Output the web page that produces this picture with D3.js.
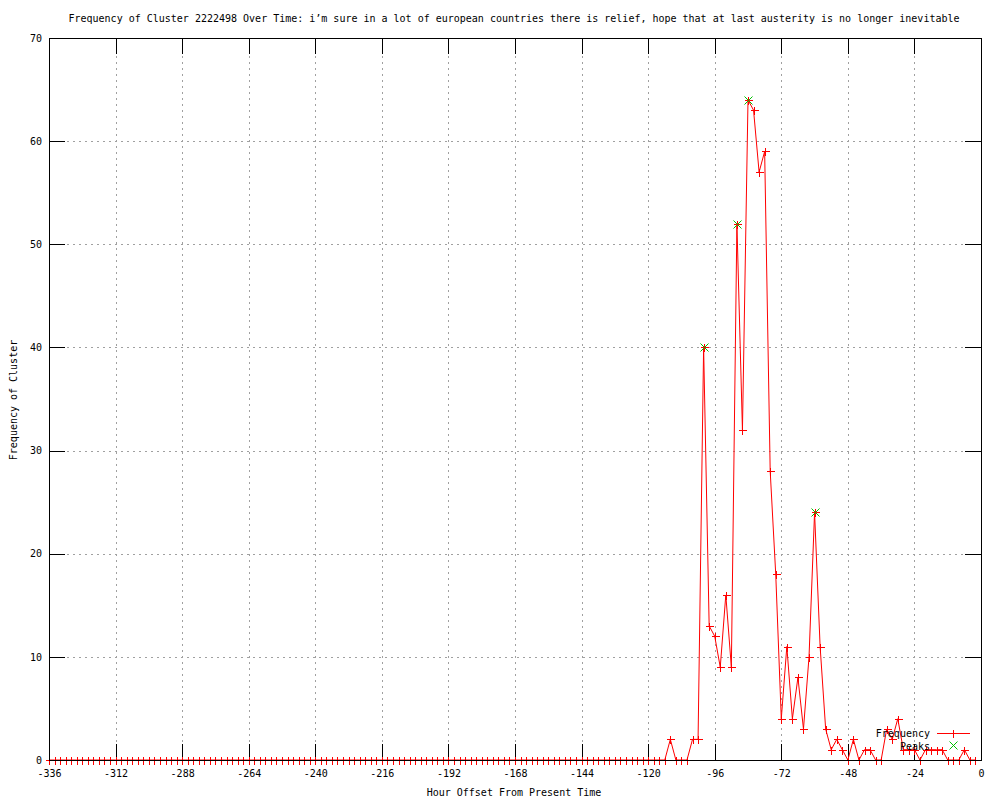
<!DOCTYPE html>
<html><head><meta charset="utf-8">
<script src="https://cdn.jsdelivr.net/npm/d3@7"></script>
<style>
body{margin:0;background:#fff}
text{font-family:"DejaVu Sans Mono",monospace;font-size:10px;fill:#000}
</style>
</head><body>
<svg id="c" width="1000" height="800"></svg>
<script>
const title = "Frequency of Cluster 2222498 Over Time: i’m sure in a lot of european countries there is relief, hope that at last austerity is no longer inevitable";
const xLabel = "Hour Offset From Present Time";
const yLabel = "Frequency of Cluster";
const seriesName = "Frequency";
const peaksName = "Peaks";

// hours -336 .. -2, every 2 hours
const hours = d3.range(-336, 0, 2);
const frequency = [
  0,0,0,0,0,0,0,0,0,0,0,0,0,0,   // -336 .. -310
  0,0,0,0,0,0,0,0,0,0,0,0,0,0,   // -308 .. -282
  0,0,0,0,0,0,0,0,0,0,0,0,0,0,   // -280 .. -254
  0,0,0,0,0,0,0,0,0,0,0,0,0,0,   // -252 .. -226
  0,0,0,0,0,0,0,0,0,0,0,0,0,0,   // -224 .. -198
  0,0,0,0,0,0,0,0,0,0,0,0,0,0,   // -196 .. -170
  0,0,0,0,0,0,0,0,0,0,0,0,0,0,   // -168 .. -142
  0,0,0,0,0,0,0,0,0,0,0,0,0,0,   // -140 .. -114
  2,0,0,0,2,2,40,13,12,9,16,9,52,32,   // -112 .. -86
  64,63,57,59,28,18,4,11,4,8,3,10,24,11, // -84 .. -58
  3,1,2,1,0,2,0,1,1,0,0,3,2,4,   // -56 .. -30
  1,1,1,0,1,1,1,1,0,0,0,1,0,0    // -28 .. -2
];
const peakHours = [-100, -88, -84, -60];
const peakValues = [40, 52, 64, 24];
const xTicks = [-336,-312,-288,-264,-240,-216,-192,-168,-144,-120,-96,-72,-48,-24,0];
const yTicks = [0,10,20,30,40,50,60,70];

const L = 49, R = 981, T = 38, B = 760;
const svg = d3.select("#c");
const x = d3.scaleLinear().domain([-336, 0]).range([L, R]);
const y = d3.scaleLinear().domain([0, 70]).range([B, T]);

// grid
const grid = svg.append("g").attr("stroke", "#a0a0a0").attr("stroke-dasharray", "2,4").attr("shape-rendering", "crispEdges");
grid.selectAll(".gx").data(xTicks.slice(1, -1)).join("line")
  .attr("x1", d => Math.round(x(d)) + 0.5).attr("x2", d => Math.round(x(d)) + 0.5)
  .attr("y1", T).attr("y2", B);
grid.selectAll(".gy").data(yTicks.slice(1, -1)).join("line")
  .attr("y1", d => Math.round(y(d)) + 0.5).attr("y2", d => Math.round(y(d)) + 0.5)
  .attr("x1", L).attr("x2", R);

// axes
const tick = 16;
const ax = svg.append("g").attr("transform", `translate(0,${B})`)
  .call(d3.axisBottom(x).tickValues(xTicks).tickSize(-tick).tickPadding(10).tickFormat(d => String(d)));
const at = svg.append("g").attr("transform", `translate(0,${T})`)
  .call(d3.axisTop(x).tickValues(xTicks).tickSize(-tick).tickFormat(""));
const al = svg.append("g").attr("transform", `translate(${L},0)`)
  .call(d3.axisLeft(y).tickValues(yTicks).tickSize(-tick).tickPadding(7).tickFormat(d => String(d)));
const ar = svg.append("g").attr("transform", `translate(${R},0)`)
  .call(d3.axisRight(y).tickValues(yTicks).tickSize(-tick).tickFormat(""));
[ax, at, al, ar].forEach(g => {
  g.select(".domain").remove();
  g.attr("font-family", null).attr("font-size", null);
  g.selectAll("line").attr("stroke", "#000").attr("shape-rendering", "crispEdges");
});

// data line
const data = hours.map((h, i) => ({h, v: frequency[i]}));
svg.append("path").datum(data)
  .attr("fill", "none").attr("stroke", "#ff0000").attr("stroke-width", 1)
  .attr("d", d3.line().x(d => x(d.h)).y(d => y(d.v)));

const plus = (cx, cy, s) => `M${cx - s},${cy}H${cx + s}M${cx},${cy - s}V${cy + s}`;
const cross = (cx, cy, s) => `M${cx - s},${cy - s}L${cx + s},${cy + s}M${cx - s},${cy + s}L${cx + s},${cy - s}`;

svg.append("g").selectAll("path").data(data).join("path")
  .attr("fill", "none").attr("stroke", "#ff0000").attr("shape-rendering", "crispEdges")
  .attr("d", d => plus(Math.round(x(d.h)) + 0.5, Math.round(y(d.v)) + 0.5, 4));

svg.append("g").selectAll("path").data(peakHours).join("path")
  .attr("fill", "none").attr("stroke", "#00c000")
  .attr("d", (d, i) => cross(Math.round(x(d)) + 0.5, Math.round(y(peakValues[i])) + 0.5, 4));

// border
svg.append("rect").attr("x", L + 0.5).attr("y", T + 0.5).attr("width", R - L).attr("height", B - T)
  .attr("fill", "none").attr("stroke", "#000").attr("shape-rendering", "crispEdges");

// legend
const lg = svg.append("g");
lg.append("text").attr("x", 930).attr("y", 737).attr("text-anchor", "end").text(seriesName);
lg.append("path").attr("fill", "none").attr("stroke", "#ff0000").attr("shape-rendering", "crispEdges")
  .attr("d", "M937,733.5H970");
lg.append("path").attr("fill", "none").attr("stroke", "#ff0000").attr("shape-rendering", "crispEdges").attr("d", plus(953.5, 733.5, 4));
lg.append("text").attr("x", 930).attr("y", 750).attr("text-anchor", "end").text(peaksName);
lg.append("path").attr("fill", "none").attr("stroke", "#00c000").attr("d", cross(953.5, 745.5, 4));

// titles
svg.append("text").attr("x", 514).attr("y", 22).attr("text-anchor", "middle").text(title);
svg.append("text").attr("x", 514).attr("y", 796).attr("text-anchor", "middle").text(xLabel);
svg.append("text").attr("transform", "translate(17,400) rotate(-90)").attr("text-anchor", "middle").text(yLabel);
</script>
</body></html>
